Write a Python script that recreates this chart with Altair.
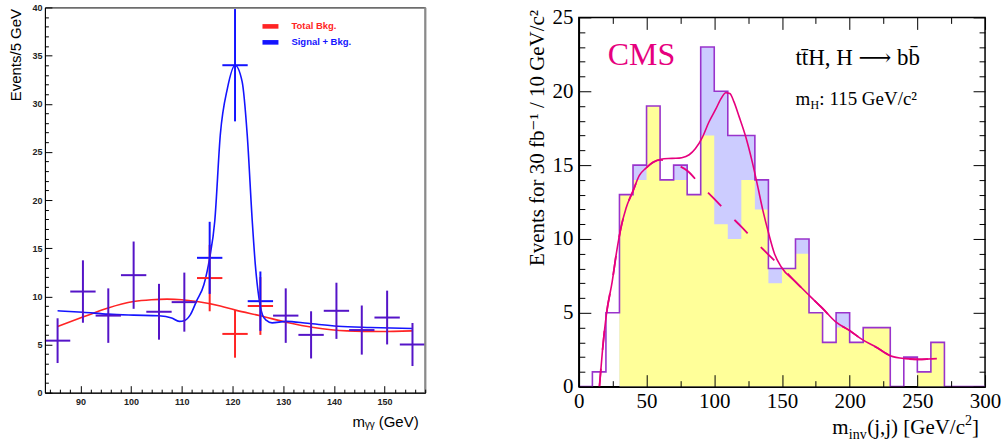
import altair as alt
import pandas as pd

# ---------------- diphoton mass spectrum (left panel) ----------------
mgg_centres = [85.5, 90.5, 95.5, 100.5, 105.5, 110.5, 115.5, 120.5,
               125.5, 130.5, 135.5, 140.5, 145.5, 150.5, 155.5]
mgg_total_bkg = [5.4, 10.5, 8.0, 12.2, 8.4, 9.4, 11.9, 6.1,
                 9.0, 8.0, 6.0, 8.5, 6.5, 7.8, 5.0]
mgg_signal_bkg = [5.4, 10.5, 8.0, 12.2, 8.4, 9.4, 14.0, 34.0,
                  9.5, 8.0, 6.0, 8.5, 6.5, 7.8, 5.0]
MGG_BIN = 5.0

# fitted shapes
bkg_fit_m = [85.5, 90.6, 95.3, 100.5, 104.0, 107.1, 110.0, 113.0, 117.6,
             120.6, 125.5, 130.8, 136.0, 142.6, 149.2, 155.4]
bkg_fit_n = [6.87, 7.87, 8.77, 9.46, 9.65, 9.71, 9.65, 9.46, 9.0,
             8.57, 7.98, 7.29, 6.77, 6.42, 6.35, 6.42]
sb_fit_m = [85.5, 90.5, 95.5, 100.5, 105.5, 108.0, 109.5, 110.6, 111.7,
            112.9, 114.35, 115.5, 116.5, 117.6, 119.0, 120.5, 121.9, 122.9,
            123.9, 124.5, 125.2, 125.9, 126.7, 127.8, 130.5, 134.8, 140.8,
            147.2, 155.4]
sb_fit_n = [8.5, 8.35, 8.15, 8.05, 7.98, 7.75, 7.4, 7.5, 8.1,
            9.5, 11.2, 14.0, 17.8, 26.8, 31.6, 34.0, 32.3, 26.8,
            17.8, 13.3, 9.9, 8.1, 7.5, 7.25, 7.4, 7.2, 6.9,
            6.77, 6.66]

# ---------------- dijet mass spectrum (right panel) ----------------
mjj_bin_lo = list(range(0, 300, 10))
mjj_data = [0, 1, 5, 13, 15, 19, 14, 15, 13, 23, 20, 17, 17, 14, 8,
            8, 10, 5, 3, 5, 3, 4, 4, 0, 2, 1, 3, 0, 0, 0]
mjj_sig_bkg = [0, 0, 0, 13, 15, 19, 14, 15, 13, 23, 20, 17, 17, 14, 8,
               8, 10, 5, 3, 5, 3, 4, 4, 0, 0, 1, 3, 0, 0, 0]
mjj_bkg = [0, 0, 0, 13, 14, 19, 14, 14, 13, 17, 11, 10, 14, 12, 7,
           8, 9, 5, 3, 4, 3, 4, 4, 0, 0, 1, 3, 0, 0, 0]
MJJ_BIN = 10

sbfit_m = [15.2, 17.5, 20.5, 24.6, 28.0, 31.2, 34.9, 39.8, 44.7, 49.6, 55.0,
           60.5, 66.0, 71.7, 76.0, 81.5, 86.0, 91.3, 96.0, 101.2, 105.0, 108.5,
           111.5, 114.5, 118.3, 123.3, 128.1, 132.0, 136.0, 140.4, 144.5,
           149.5, 160.0, 169.9, 180.0, 189.5, 200.0, 209.1, 220.0, 230.0, 241.0,
           250.9, 258.0, 264.4]
sbfit_n = [0.0, 2.5, 5.0, 7.1, 9.2, 10.8, 12.1, 13.2, 14.3, 14.8, 15.2,
           15.4, 15.45, 15.46, 15.5, 15.7, 16.1, 16.9, 17.9, 18.8, 19.5, 19.9,
           19.85, 19.3, 18.3, 16.9, 15.2, 13.6, 11.9, 10.3, 9.0,
           8.1, 7.1, 6.2, 5.3, 4.4, 3.8, 3.2, 2.65, 2.1, 1.9,
           1.85, 1.87, 1.9]
bfit_m = [15.2, 17.5, 20.5, 24.6, 28.0, 31.2, 34.9, 39.8, 44.7, 49.6, 55.0,
          60.5, 65.0, 70.5, 80.3, 90.4, 100.2, 110.5, 120.3, 130.6, 140.0,
          150.2, 160.0, 169.9, 180.0, 189.5, 200.0, 209.1, 220.0, 230.0,
          241.0, 250.9, 258.0, 264.4]
bfit_n = [0.0, 2.5, 5.0, 7.1, 9.2, 10.8, 12.1, 13.2, 14.3, 14.8, 15.2,
          15.35, 15.3, 15.1, 14.6, 13.6, 12.7, 11.7, 10.8, 9.8, 8.94,
          8.04, 7.1, 6.2, 5.3, 4.4, 3.8, 3.2, 2.65, 2.1,
          1.9, 1.85, 1.87, 1.9]

# ---------------- styling ----------------
RED, BLUE, PURPLE = "#ff2424", "#1414ff", "#5514c8"
YELLOW, LAVENDER, OUTLINE, MAGENTA = "#ffff99", "#ccccff", "#9933cc", "#e6007e"
SANS = "Liberation Sans, DejaVu Sans, sans-serif"
SERIF = "Liberation Serif, DejaVu Serif, serif"

CANVAS_W, CANVAS_H = 1007, 441
LEFT_X0, LEFT_Y0 = 44, 6          # plot origin of the left panel on the canvas
W1, H1 = 381, 386
W2, H2 = 407, 370
GAP = 154
RIGHT_DROP = 10


def inward_ticks(orient, offset, values, every, major, minor):
    """Tick-only axis placed on the far side so its ticks point into the frame."""
    return alt.Axis(
        orient=orient, offset=offset, values=values, labels=False, domain=False,
        grid=False, title=None, tickColor="black", tickWidth=1, zindex=1,
        tickSize={"condition": {"test": f"datum.value % {every} === 0", "value": major},
                  "value": minor},
    )


def text_mark(text, x, y, size, font, color="black", weight="normal",
              align="left", baseline="alphabetic"):
    return alt.Chart(pd.DataFrame({"t": [text]})).mark_text(
        align=align, baseline=baseline, font=font, fontSize=size,
        color=color, fontWeight=weight,
    ).encode(text="t:N", x=alt.value(x), y=alt.value(y))


# ---------------- left panel ----------------
half = MGG_BIN / 2
rows_red, rows_blue, rows_both = [], [], []
for c, b, s in zip(mgg_centres, mgg_total_bkg, mgg_signal_bkg):
    if b == s:
        rows_both.append(dict(series="both", c=c, v=b))
    else:
        rows_red.append(dict(series="bkg", c=c, v=b))
        rows_blue.append(dict(series="sb", c=c, v=s))
cross = pd.DataFrame(rows_red + rows_blue + rows_both)
cross["lo"] = cross["c"] - half
cross["hi"] = cross["c"] + half
cross["elo"] = cross["v"] - cross["v"] ** 0.5
cross["ehi"] = cross["v"] + cross["v"] ** 0.5

xs1 = alt.Scale(domain=[83, 158], nice=False, zero=False)
ys1 = alt.Scale(domain=[0, 40], nice=False)
cross_color = alt.Color("series:N", legend=None,
                        scale=alt.Scale(domain=["bkg", "sb", "both"],
                                        range=[RED, BLUE, PURPLE]))

x_axis_left = alt.Axis(
    orient="bottom", values=list(range(90, 151, 10)), ticks=False, tickSize=0,
    domain=True, domainColor="black", domainWidth=1, zindex=1,
    labelFont=SANS, labelFontSize=9, labelFontWeight="bold", labelColor="#222",
    labelPadding=5, labelFlush=False, labelOverlap=False, grid=False,
    title="mᵧᵧ (GeV)", titleFont=SANS, titleFontSize=15, titleFontWeight="normal",
    titleColor="black", titleX=374, titleY=34, titleAlign="right",
    titleBaseline="alphabetic",
)
y_axis_left = alt.Axis(
    orient="left", values=list(range(0, 41, 5)), ticks=False, tickSize=0,
    domain=True, domainColor="black", domainWidth=1, zindex=1,
    labelFont=SANS, labelFontSize=9, labelFontWeight="bold", labelColor="#222",
    labelPadding=3, labelFlush=False, labelOverlap=False, grid=False,
    title="Events/5 GeV", titleFont=SANS, titleFontSize=15, titleFontWeight="normal",
    titleColor="black", titleAngle=270, titleAlign="right", titleBaseline="alphabetic",
    titleX=-24, titleY=1,
)

bkg_curve = alt.Chart(pd.DataFrame({"m": bkg_fit_m, "n": bkg_fit_n})).mark_line(
    color=RED, strokeWidth=1.6, interpolate="monotone", clip=True
).encode(
    x=alt.X("m:Q", scale=xs1, axis=x_axis_left),
    y=alt.Y("n:Q", scale=ys1, axis=y_axis_left),
)
sb_curve = alt.Chart(pd.DataFrame({"m": sb_fit_m, "n": sb_fit_n})).mark_line(
    color=BLUE, strokeWidth=1.6, interpolate="monotone", clip=True
).encode(
    x=alt.X("m:Q", scale=xs1,
            axis=inward_ticks("top", -H1, list(range(84, 159, 2)), 10, 7, 3.5)),
    y=alt.Y("n:Q", scale=ys1,
            axis=inward_ticks("right", -W1, list(range(0, 41)), 5, 7, 3.5)),
)
hbars = alt.Chart(cross).mark_rule(strokeWidth=2).encode(
    x=alt.X("lo:Q", scale=xs1, axis=None), x2="hi:Q",
    y=alt.Y("v:Q", scale=ys1, axis=None), color=cross_color,
)
vbars = alt.Chart(cross).mark_rule(strokeWidth=2).encode(
    x=alt.X("c:Q", scale=xs1, axis=None),
    y=alt.Y("elo:Q", scale=ys1, axis=None), y2="ehi:Q", color=cross_color,
)

legend_items = []
for name, col, ymid in [("Total Bkg.", RED, 19), ("Signal + Bkg.", BLUE, 35)]:
    legend_items.append(
        alt.Chart(pd.DataFrame({"k": [name]})).mark_rect(color=col).encode(
            x=alt.value(218), x2=alt.value(234),
            y=alt.value(ymid - 2.3), y2=alt.value(ymid + 2.3))
    )
    legend_items.append(text_mark(name, 247, ymid, 9.5, SANS, color=col,
                                  weight="bold", baseline="middle"))

right_edge = alt.Chart(pd.DataFrame({"k": [0]})).mark_rule(
    color="#8a8a8a", strokeWidth=2
).encode(x=alt.value(W1), y=alt.value(0), y2=alt.value(H1))

# transparent sheet spanning the whole canvas, so the padded layout keeps the
# left panel's plot origin at (LEFT_X0, LEFT_Y0)
canvas_sheet = alt.Chart(pd.DataFrame({"k": [0]})).mark_rect(
    fill="white", fillOpacity=0, strokeOpacity=0
).encode(
    x=alt.value(-LEFT_X0), x2=alt.value(CANVAS_W - LEFT_X0),
    y=alt.value(-LEFT_Y0), y2=alt.value(CANVAS_H - LEFT_Y0),
)

left_panel = alt.layer(
    canvas_sheet, bkg_curve, sb_curve, hbars, vbars, *legend_items, right_edge
).resolve_axis(x="independent", y="independent").properties(
    width=W1, height=H1,
    view=alt.ViewBackground(stroke="black", strokeWidth=1),
)

# ---------------- right panel ----------------
edges = mjj_bin_lo + [mjj_bin_lo[-1] + MJJ_BIN]
steps = pd.DataFrame({
    "edge": edges,
    "data": mjj_data + [mjj_data[-1]],
    "sb": mjj_sig_bkg + [mjj_sig_bkg[-1]],
    "bkg": mjj_bkg + [mjj_bkg[-1]],
})

xs2 = alt.Scale(domain=[0, 300], nice=False)
ys2 = alt.Scale(domain=[0, 25], nice=False)

y_axis_right = alt.Axis(
    orient="left", values=list(range(0, 26, 5)), ticks=False, tickSize=0,
    domain=True, domainColor="black", domainWidth=1.5, zindex=1,
    labelFont=SERIF, labelFontSize=21, labelColor="black", labelPadding=6,
    labelFlush=False, labelOverlap=False, grid=False,
    title="Events for 30 fb⁻¹ / 10 GeV/c²", titleFont=SERIF, titleFontSize=21,
    titleFontWeight="normal", titleColor="black", titleAngle=270,
    titleAlign="right", titleBaseline="alphabetic", titleX=-35, titleY=-8,
)
x_axis_right = alt.Axis(
    orient="bottom", values=list(range(0, 301, 50)), ticks=False, tickSize=0,
    domain=True, domainColor="black", domainWidth=1.5, zindex=1,
    labelFont=SERIF, labelFontSize=21, labelColor="black", labelPadding=4,
    labelFlush=False, labelOverlap=False, grid=False, title=None,
)

sb_fill = alt.Chart(steps).mark_area(
    color=LAVENDER, interpolate="step-after", clip=True
).encode(
    x=alt.X("edge:Q", scale=xs2, axis=x_axis_right),
    y=alt.Y("sb:Q", scale=ys2, axis=y_axis_right), y2=alt.datum(0),
)
bkg_fill = alt.Chart(steps).mark_area(
    color=YELLOW, interpolate="step-after", clip=True
).encode(
    x=alt.X("edge:Q", scale=xs2,
            axis=inward_ticks("top", -H2, list(range(0, 301, 25)), 50, 12, 6)),
    y=alt.Y("bkg:Q", scale=ys2,
            axis=inward_ticks("right", -W2, list(range(0, 26)), 5, 12, 6)),
    y2=alt.datum(0),
)
outline = alt.Chart(steps).mark_line(
    color=OUTLINE, strokeWidth=1.6, interpolate="step-after", clip=True
).encode(
    x=alt.X("edge:Q", scale=xs2,
            axis=inward_ticks("bottom", -H2, list(range(0, 301, 25)), 50, 12, 6)),
    y=alt.Y("data:Q", scale=ys2,
            axis=inward_ticks("left", -W2, list(range(0, 26)), 5, 12, 6)),
)
sb_fit = alt.Chart(pd.DataFrame({"m": sbfit_m, "n": sbfit_n})).mark_line(
    color=MAGENTA, strokeWidth=1.6, interpolate="monotone", clip=True
).encode(
    x=alt.X("m:Q", scale=xs2, axis=None),
    y=alt.Y("n:Q", scale=ys2, axis=None),
)
b_fit = alt.Chart(pd.DataFrame({"m": bfit_m, "n": bfit_n})).mark_line(
    color=MAGENTA, strokeWidth=1.8, interpolate="monotone", clip=True,
    strokeDash=[19, 19], strokeDashOffset=39,
).encode(
    x=alt.X("m:Q", scale=xs2, axis=None),
    y=alt.Y("n:Q", scale=ys2, axis=None),
)

texts_right = [
    text_mark("CMS", 29, 48, 32, SERIF, color=MAGENTA),
    text_mark("tt\u0304H, H \u27f6 bb\u0304", 217, 48, 23, SERIF),
    text_mark("m", 217, 88, 19, SERIF),
    text_mark("H", 232, 92, 12, SERIF),
    text_mark(": 115 GeV/c²", 241, 88, 19, SERIF),
    # x-axis title with a subscript and a superscript
    text_mark("m", 254, 417, 21, SERIF),
    text_mark("inv", 270.5, 422, 14, SERIF),
    text_mark("(j,j) [GeV/c", 289, 417, 21, SERIF),
    text_mark("2", 387, 408, 14, SERIF),
    text_mark("]", 394, 417, 21, SERIF),
]

right_panel = alt.layer(
    sb_fill, bkg_fill, outline, sb_fit, b_fit, *texts_right
).resolve_axis(x="independent", y="independent").properties(
    width=W2, height=H2,
    view=alt.ViewBackground(stroke="black", strokeWidth=1.5),
)

spacer = alt.Chart(pd.DataFrame({"s": [0]})).mark_point(opacity=0).encode(
    x=alt.X("s:Q", axis=None), y=alt.Y("s:Q", axis=None)
).properties(width=W2, height=RIGHT_DROP,
             view=alt.ViewBackground(stroke="transparent"))

right_column = alt.vconcat(spacer, right_panel, spacing=0, bounds="flush")

chart = alt.hconcat(left_panel, right_column, spacing=GAP, bounds="flush").properties(
    padding=0,
    background="white",
)

chart.save("out.html", embed_options={"renderer": "svg", "actions": False})
